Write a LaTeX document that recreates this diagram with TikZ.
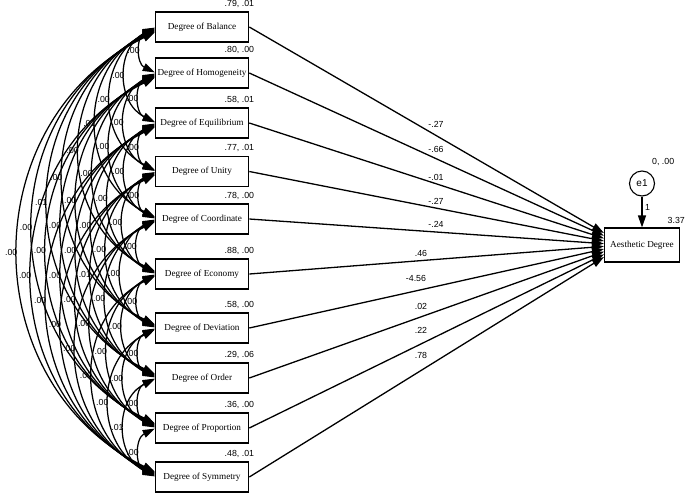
\documentclass[tikz,border=0pt]{standalone}
\usepackage{fontspec}
\setmainfont{Liberation Serif}
\newfontfamily\numfont{Liberation Sans}
\usetikzlibrary{arrows.meta}
\def\covval#1#2{\ifcsname cv#1-#2\endcsname\csname cv#1-#2\endcsname\else .00\fi}
\expandafter\def\csname cv1-5\endcsname{.01}
\expandafter\def\csname cv1-8\endcsname{.01}
\expandafter\def\csname cv4-8\endcsname{.01}
\expandafter\def\csname cv8-10\endcsname{.01}
\begin{document}
\begin{tikzpicture}[x=1pt,y=-1pt,
  var/.style={draw, line width=1.1pt, minimum width=93.5pt, minimum height=30pt, inner sep=0pt, font=\fontsize{9.2}{11}\selectfont},
  val/.style={font=\numfont\fontsize{8.8}{10}\selectfont, inner sep=0pt, anchor=south east},
  reg/.style={line width=1.3pt, -{Triangle[length=12pt,width=8pt]}},
  cov/.style={line width=1.25pt, {Triangle[length=12pt,width=8pt]}-{Triangle[length=12pt,width=8pt]}},
  covlbl/.style={font=\numfont\fontsize{8.8}{10}\selectfont, anchor=east, inner sep=0.5pt, pos=0.5},
  rlbl/.style={font=\numfont\fontsize{8.8}{10}\selectfont, inner sep=0pt}
]
\useasboundingbox (0,0) rectangle (685,493);

% exogenous variables
\node[var] (b1)  at (202,27)    {Degree of Balance};
\node[var] (b2)  at (202,73)    {Degree of Homogeneity};
\node[var] (b3)  at (202,123)   {Degree of Equilibrium};
\node[var] (b4)  at (202,171.5) {Degree of Unity};
\node[var] (b5)  at (202,219)   {Degree of Coordinate};
\node[var] (b6)  at (202,274)   {Degree of Economy};
\node[var] (b7)  at (202,328)   {Degree of Deviation};
\node[var] (b8)  at (202,378)   {Degree of Order};
\node[var] (b9)  at (202,428)   {Degree of Proportion};
\node[var] (b10) at (202,477)   {Degree of Symmetry};

% means, variances
\node[val] (v1)  at ([xshift=5pt,yshift=4pt]b1.north east)  {.79, .01};
\node[val] (v2)  at ([xshift=5pt,yshift=4pt]b2.north east)  {.80, .00};
\node[val] (v3)  at ([xshift=5pt,yshift=4pt]b3.north east)  {.58, .01};
\node[val] (v4)  at ([xshift=5pt,yshift=4pt]b4.north east)  {.77, .01};
\node[val] (v5)  at ([xshift=5pt,yshift=4pt]b5.north east)  {.78, .00};
\node[val] (v6)  at ([xshift=5pt,yshift=4pt]b6.north east)  {.88, .00};
\node[val] (v7)  at ([xshift=5pt,yshift=4pt]b7.north east)  {.58, .00};
\node[val] (v8)  at ([xshift=5pt,yshift=4pt]b8.north east)  {.29, .06};
\node[val] (v9)  at ([xshift=5pt,yshift=4pt]b9.north east)  {.36, .00};
\node[val] (v10) at ([xshift=5pt,yshift=4pt]b10.north east) {.48, .01};

% endogenous variable and error
\node[var, minimum width=75pt, minimum height=34pt] (ae) at (642,245) {Aesthetic Degree};
\node[val] (vae) at ([xshift=5pt,yshift=4pt]ae.north east) {3.37};
\node[circle, draw, line width=1.1pt, minimum size=25pt, inner sep=0pt,
      font=\numfont\fontsize{10}{11}\selectfont] (e1) at (642,183.5) {e1};
\node[val, anchor=south west] (ve1) at ([xshift=10pt,yshift=4.5pt]e1.north) {0, .00};
\draw[reg] (e1.south) -- node[rlbl, pos=0.35, anchor=west, xshift=2.5pt] (one) {1} (ae.north);

% regressions
\foreach \k in {1,...,10}{
  \draw[reg] (b\k.east) -- ([yshift={12pt-(\k-1)*2.67pt}]ae.west);
}
\node[rlbl] (l1)  at (436,124) {-.27};
\node[rlbl] (l2)  at (436,149) {-.66};
\node[rlbl] (l3)  at (436,177) {-.01};
\node[rlbl] (l4)  at (436,201) {-.27};
\node[rlbl] (l5)  at (436,224) {-.24};
\node[rlbl] (l6)  at (421,253) {.46};
\node[rlbl] (l7)  at (416,278) {-4.56};
\node[rlbl] (l8)  at (421,306) {.02};
\node[rlbl] (l9)  at (421,330) {.22};
\node[rlbl] (l10) at (421,355) {.78};

% covariances
\foreach \i in {1,...,9}{
  \pgfmathtruncatemacro\ii{\i+1}
  \foreach \j in {\ii,...,10}{
    \draw[cov] ([yshift={-(\j-\i)*0.6pt}]b\i.west) to[bend right=64, looseness=1.18]
      node[covlbl] (c\i-\j) {\covval{\i}{\j}} ([yshift={(\j-\i)*0.6pt}]b\j.west);
  }
}
\end{tikzpicture}
\end{document}
